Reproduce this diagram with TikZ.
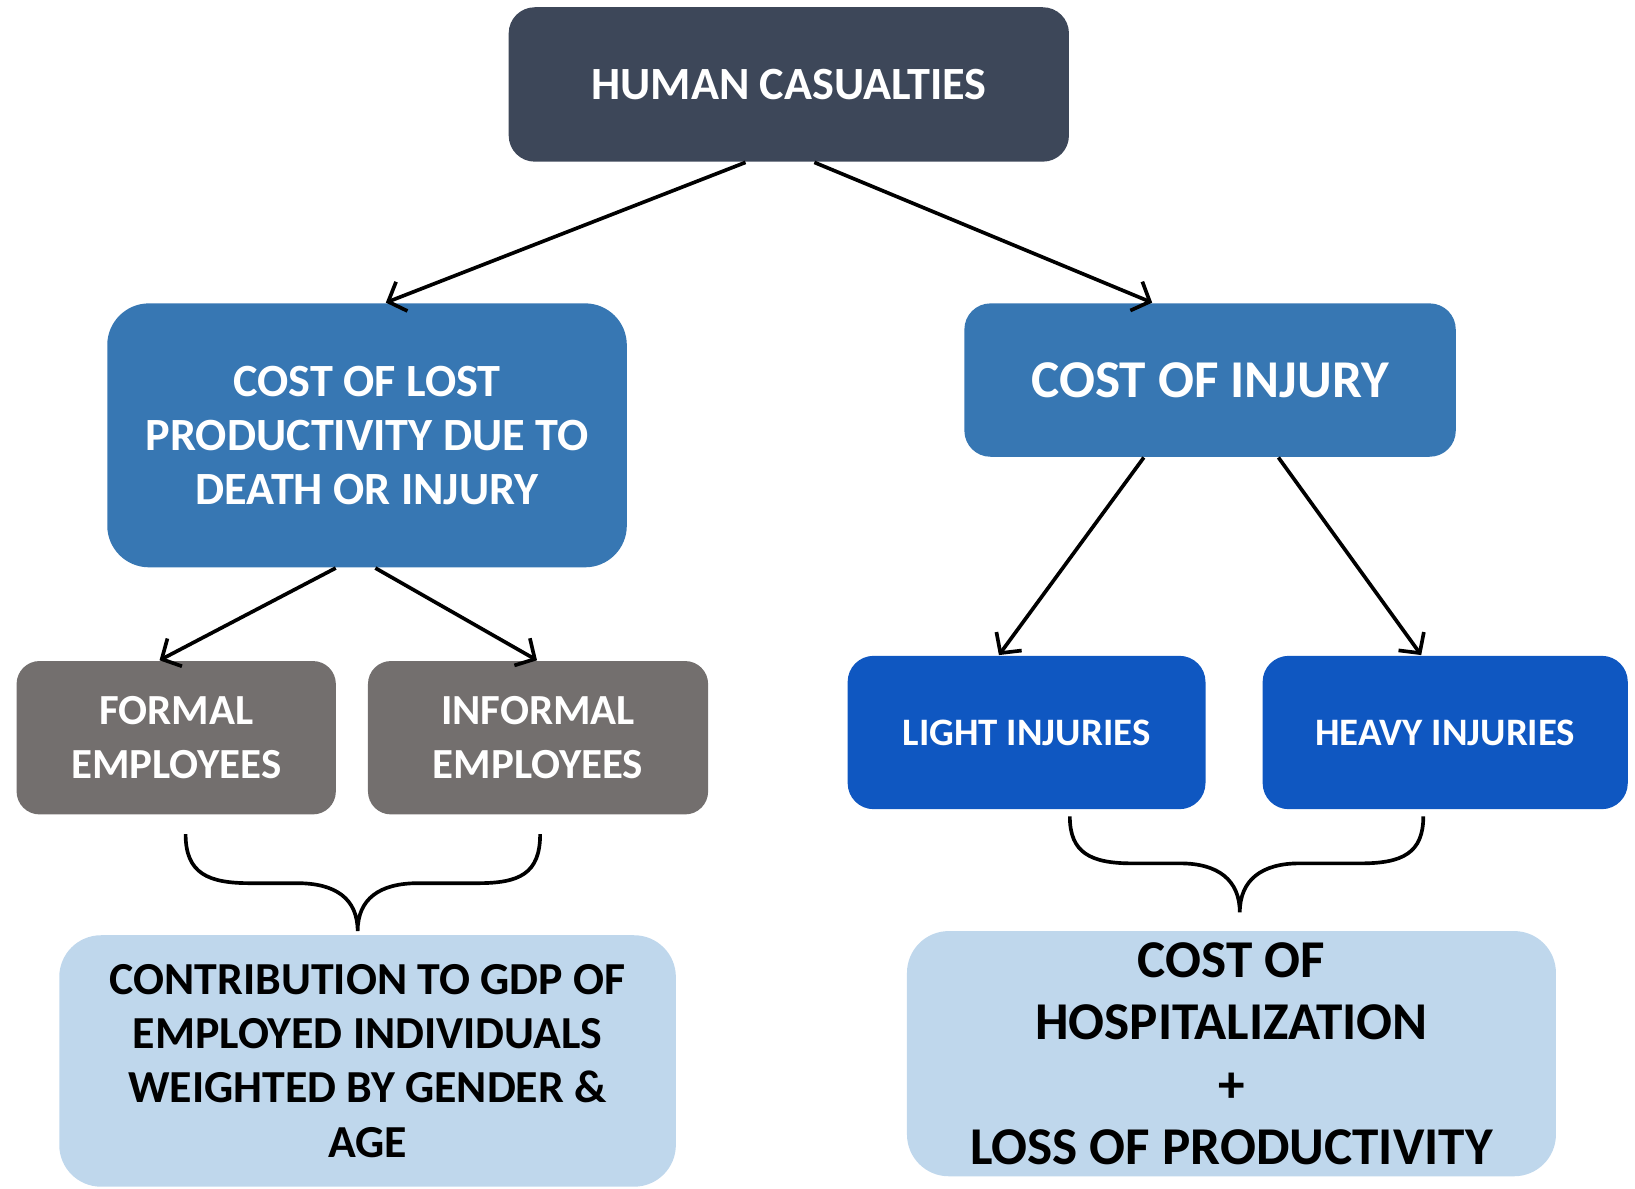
\documentclass[tikz,border=0pt]{standalone}
\usepackage{fontspec}
\setmainfont{Carlito}
\usetikzlibrary{arrows.meta}
\definecolor{slate}{HTML}{3D4759}
\definecolor{steel}{HTML}{3777B3}
\definecolor{stone}{HTML}{736F6E}
\definecolor{royal}{HTML}{0F57C1}
\definecolor{pale}{HTML}{BFD7EC}
\begin{document}
\begin{tikzpicture}[x=0.01cm,y=-0.01cm,
  box/.style={rounded corners=0.25cm, align=center, inner sep=0pt, text=white, font=\bfseries\fontsize{12.6}{14.8}\selectfont},
  arr/.style={line width=1pt, -{Straight Barb[length=1.4mm,width=3mm]}},
  brace/.style={line width=1pt}]
	\useasboundingbox (0,0) rectangle (1568,1140);
	\node[box, fill=slate, minimum width=5.37cm, minimum height=1.48cm] (hc) at (756.5,81) {HUMAN CASUALTIES};
	\node[box, fill=steel, rounded corners=0.4cm, minimum width=4.98cm, minimum height=2.53cm] (lost) at (352,417.5) {COST OF LOST\\PRODUCTIVITY DUE TO\\DEATH OR INJURY};
	\node[box, fill=steel, minimum width=4.71cm, minimum height=1.47cm, font=\bfseries\fontsize{14.5}{17}\selectfont] (inj) at (1160.5,364.5) {COST OF INJURY};
	\node[box, fill=stone, rounded corners=0.22cm, minimum width=3.06cm, minimum height=1.47cm, font=\bfseries\fontsize{11.7}{14.8}\selectfont] (formal) at (169,707.5) {FORMAL\\EMPLOYEES};
	\node[box, fill=stone, rounded corners=0.22cm, minimum width=3.26cm, minimum height=1.47cm, font=\bfseries\fontsize{11.7}{14.8}\selectfont] (informal) at (516,707.5) {INFORMAL\\EMPLOYEES};
	\node[box, fill=royal, minimum width=3.43cm, minimum height=1.47cm, font=\bfseries\fontsize{10.6}{13}\selectfont] (light) at (984.5,702.5) {LIGHT INJURIES};
	\node[box, fill=royal, minimum width=3.50cm, minimum height=1.47cm, font=\bfseries\fontsize{10.6}{13}\selectfont] (heavy) at (1386,702.5) {HEAVY INJURIES};
	\node[box, fill=pale, text=black, rounded corners=0.4cm, minimum width=5.91cm, minimum height=2.41cm, font=\bfseries\fontsize{12.5}{14.8}\selectfont] (gdp) at (352.5,1017.5) {CONTRIBUTION TO GDP OF\\EMPLOYED INDIVIDUALS\\WEIGHTED BY GENDER \&\\AGE};
	\node[box, fill=pale, text=black, rounded corners=0.4cm, minimum width=6.22cm, minimum height=2.35cm, font=\bfseries\fontsize{14.5}{17}\selectfont] (hosp) at (1181,1010.5) {COST OF\\HOSPITALIZATION\\+\\LOSS OF PRODUCTIVITY};
	% arrows
	\draw[arr] ([xshift=-0.415cm]hc.south) -- ([xshift=0.18cm]lost.north);
	\draw[arr] ([xshift=0.245cm]hc.south) -- ([xshift=-0.555cm]inj.north);
	\draw[arr] ([xshift=-0.30cm]lost.south) -- ([xshift=-0.16cm]formal.north);
	\draw[arr] ([xshift=0.08cm]lost.south) -- ([xshift=-0.01cm]informal.north);
	\draw[arr] ([xshift=-0.635cm]inj.south) -- ([xshift=-0.265cm]light.north);
	\draw[arr] ([xshift=0.655cm]inj.south) -- ([xshift=-0.23cm]heavy.north);
	% braces
	\draw[brace] (178,800) .. controls (178,838) and (200,847) .. (240,847) -- (285,847) .. controls (322,847) and (343,862) .. (343,893)
	  .. controls (343,862) and (364,847) .. (401,847) -- (458,847) .. controls (498,847) and (518,838) .. (518,800);
	\draw[brace] (1026,783) .. controls (1026,818) and (1046,828) .. (1086,828) -- (1132,828) .. controls (1168,828) and (1189,844) .. (1189,875)
	  .. controls (1189,844) and (1210,828) .. (1246,828) -- (1305,828) .. controls (1345,828) and (1365,818) .. (1365,783);
\end{tikzpicture}
\end{document}
